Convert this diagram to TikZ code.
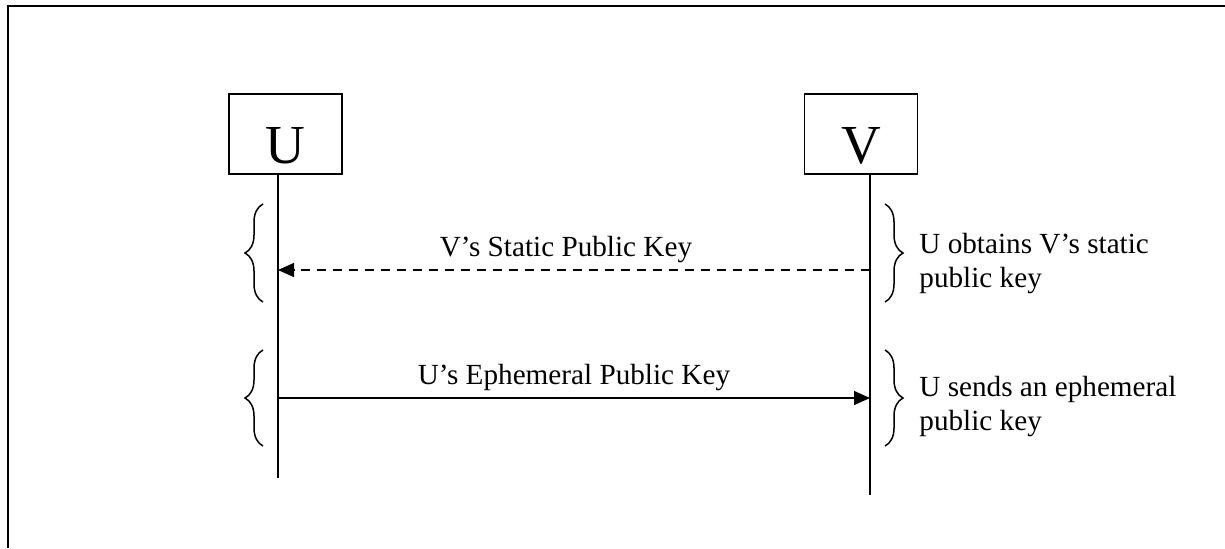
\documentclass[tikz,border=0pt]{standalone}
\usepackage{fontspec}
\setmainfont{Liberation Serif}
\usepackage{tikz}
\usetikzlibrary{arrows.meta,shapes,decorations.pathreplacing}
\tikzstyle{party}=[draw,line width=.75pt,minimum width=56.5pt,minimum height=40pt,
inner sep=0pt,text height=29pt,text depth=0pt,font=\fontsize{27.5}{30}\selectfont]
\tikzstyle{lifeline}=[black,line width=.8pt]
\tikzstyle{msg}=[-{Triangle[length=8pt,width=7pt]},line width=.7pt]
\tikzstyle{bracket}=[decorate,decoration={brace,amplitude=9pt},line width=.75pt]
\tikzstyle{note}=[anchor=west,align=left,inner sep=0pt]

\begin{document}
\begin{tikzpicture}[x=.5pt,y=-.5pt,font=\fontsize{14.6}{17}\selectfont]
	\useasboundingbox (0,0) rectangle (1225,548);

	%frame
	\draw[line width=1pt] (8,548) -- (8,6) -- (1225,6);

	\node[party] (U) at (285.5,134) {U};
	\node[party] (V) at (861,134) {V};

	%lifelines
	\coordinate (Utop) at (278,174);
	\coordinate (Ubot) at (278,478);
	\coordinate (Vtop) at (870,174);
	\coordinate (Vbot) at (870,495);
	\draw[lifeline] (Utop) -- (Ubot);
	\draw[lifeline] (Vtop) -- (Vbot);

	%messages
	\coordinate (Vstat) at (870,270);
	\coordinate (Ustat) at (278,270);
	\coordinate (Ueph) at (278,398);
	\coordinate (Veph) at (870,398);
	\draw[msg,dash pattern=on 4.5pt off 3.5pt] (Vstat) -- node[midway,above=3.5pt,inner sep=0pt,xshift=-4pt] {V’s Static Public Key} (Ustat);
	\draw[msg] (Ueph) -- node[midway,above=3.5pt,inner sep=0pt] {U’s Ephemeral Public Key} (Veph);

	%braces
	\draw[bracket] (263,302) -- (263,204);
	\draw[bracket] (263,446) -- (263,350);
	\draw[bracket] (885,204) -- (885,302);
	\draw[bracket] (885,350) -- (885,446);

	\node[note] (obtain) at (919,264) {U obtains V’s static\\public key};
	\node[note] (send) at (919,407) {U sends an ephemeral\\public key};
\end{tikzpicture}
\end{document}
